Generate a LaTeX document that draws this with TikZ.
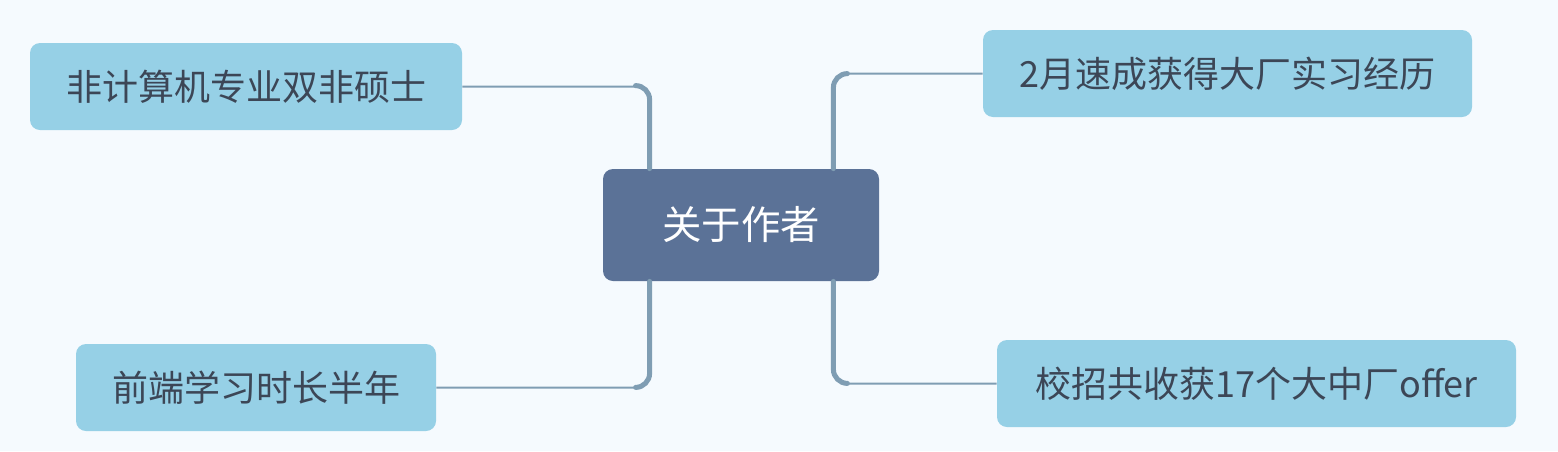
\documentclass[tikz,border=0pt]{standalone}
\usepackage{fontspec}
\setmainfont{Noto Sans CJK SC}
\usetikzlibrary{positioning}

\definecolor{bgcol}{HTML}{F5FAFE}
\definecolor{topiccol}{HTML}{5B7297}
\definecolor{subcol}{HTML}{96D0E6}
\definecolor{linecol}{HTML}{7F9DB3}
\definecolor{textcol}{HTML}{3C4656}

\begin{document}
\begin{tikzpicture}[x=0.5pt, y=-0.5pt,
        topic/.style={fill=topiccol, rounded corners=5pt, text=white,
            minimum width=138pt, minimum height=56pt,
            font=\fontsize{19.7}{23}\selectfont},
        sub/.style={fill=subcol, rounded corners=5pt, text=textcol,
            minimum height=43.5pt, font=\fontsize{18}{21}\selectfont},
        thinline/.style={draw=linecol, line width=1pt, rounded corners=7.5pt},
        thickline/.style={draw=linecol, line width=2.5pt, rounded corners=7pt,
            line cap=round}]
        \fill[bgcol] (0,0) rectangle (1558,451);
        \useasboundingbox (0,0) rectangle (1558,451);

        % nodes
        \node[topic] (about) at (741,225) {关于作者};
        \node[sub, minimum width=216pt] (master) at (246,86.5) {非计算机专业双非硕士};
        \node[sub, minimum width=180pt] (study) at (256,387.5) {前端学习时长半年};
        \node[sub, minimum width=244.5pt] (intern) at (1227.5,73.5) {2月速成获得大厂实习经历};
        \node[sub, minimum width=259.5pt] (offer) at (1256.5,383.5) {校招共收获17个大中厂offer};

        % connectors
        \draw[thinline] ([xshift=23.5pt]about.north west) |- (master.east);
        \draw[thickline] ([xshift=23.5pt]about.north west) |- ++(-14,-83);
        \draw[thinline] ([xshift=23.5pt]about.south west) |- (study.east);
        \draw[thickline] ([xshift=23.5pt]about.south west) |- ++(-14,106);
        \draw[thinline] ([xshift=-23pt]about.north east) |- (intern.west);
        \draw[thickline] ([xshift=-23pt]about.north east) |- ++(14,-95);
        \draw[thinline] ([xshift=-23pt]about.south east) |- (offer.west);
        \draw[thickline] ([xshift=-23pt]about.south east) |- ++(14,102);
    \end{tikzpicture}
\end{document}
